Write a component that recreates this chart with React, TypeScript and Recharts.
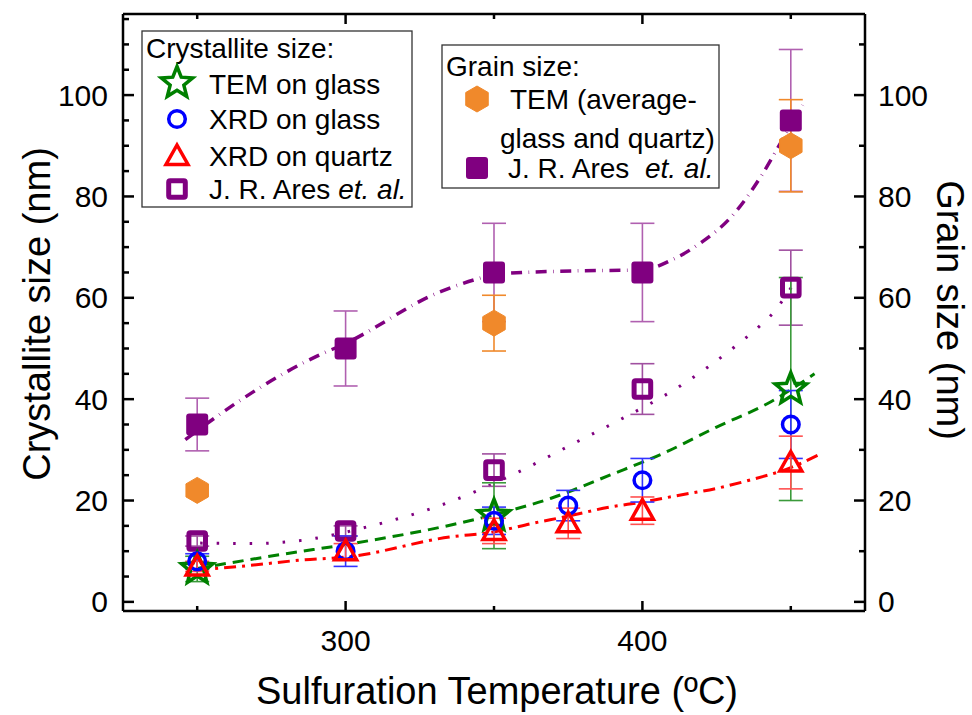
import React from "react";
import { ComposedChart, XAxis, YAxis, Scatter, Line, ErrorBar } from "recharts";

// ---------- data ----------
const temGlassTemps = [250, 350, 450];
const temGlassSize = [6.5, 17, 42];
const temGlassErr = [2.5, 6.5, 22];

const xrdGlassTemps = [250, 300, 350, 375, 400, 450];
const xrdGlassSize = [8, 10, 16, 19, 24, 35];
const xrdGlassErr = [1.5, 3, 2.7, 3, 4.3, 6.7];

const xrdQuartzTemps = [250, 300, 350, 375, 400, 450];
const xrdQuartzSize = [7, 10, 14, 15.5, 18, 27.5];
const xrdQuartzErr = [1, 1.5, 2.5, 3, 2.7, 5.2];

const aresCrystTemps = [250, 300, 350, 400, 450];
const aresCrystSize = [12, 14, 26, 42, 62];
const aresCrystErr = [1, 1, 3.2, 5, 7.4];

const temGrainTemps = [250, 350, 450];
const temGrainSize = [22, 55, 90];
const temGrainErr = [0, 5.5, 9.1];

const aresGrainTemps = [250, 300, 350, 400, 450];
const aresGrainSize = [35, 50, 65, 65, 95];
const aresGrainErr = [5.2, 7.4, 9.7, 9.7, 14];

// trend curves
const greenFitX = [250, 281, 300, 338, 352, 369, 389, 407, 425, 443, 458];
const greenFitY = [6.6, 9.6, 11.3, 15.5, 17.5, 20.4, 25, 29.3, 34.5, 39.4, 45];

const redFitX = [250, 268, 284, 301, 335, 350, 363, 374, 389, 400, 412, 425, 436, 450, 459];
const redFitY = [6.3, 7.2, 8.2, 8.9, 12.8, 13.8, 15.5, 16.8, 18.7, 19.7, 21, 22.4, 24, 26.5, 28.9];

const purpleDotX = [251, 268, 286, 308, 335, 356, 377, 392, 413, 431, 440, 444, 451];
const purpleDotY = [11.6, 11.5, 12.2, 14.9, 19.7, 25, 31.3, 35.8, 42.7, 50.3, 54.7, 57, 62.8];

const purpleDashX = [246, 254, 290, 300, 332, 354, 376, 400, 410, 420, 430, 440, 447, 454];
const purpleDashY = [32, 35.5, 48.4, 51, 61.2, 64.8, 65.3, 65.5, 67.5, 71, 76, 84, 91, 98];

const xTicks = [250, 300, 350, 400, 450];
const xMajor = [300, 400];
const leftTicks = [0, 5, 10, 15, 20, 25, 30, 35, 40, 45, 50, 55, 60, 65, 70, 75, 80, 85, 90, 95, 100, 105, 110, 115];
const rightTicks = [0, 10, 20, 30, 40, 50, 60, 70, 80, 90, 100, 110];

const pts = (xs: number[], ys: number[], es?: number[]) =>
  xs.map((x, i) => ({ x, y: ys[i], err: es ? es[i] : 0 }));

const FONT = "'Liberation Sans', Arial, Helvetica, sans-serif";
const GREEN = "#008000";
const BLUE = "#0000ff";
const RED = "#ff0000";
const PURPLE = "#800080";
const ORANGE = "#f0892b";
const TICK_FS = 30;
const TITLE_FS = 38;
const LEG_FS = 28;

// ---------- marker shapes ----------
const StarShape = ({ cx, cy }: any) => {
  const R = 16.5, r = 7.2;
  const p: string[] = [];
  for (let i = 0; i < 10; i++) {
    const a = -Math.PI / 2 + (i * Math.PI) / 5;
    const rad = i % 2 === 0 ? R : r;
    p.push(`${cx + rad * Math.cos(a)},${cy + rad * Math.sin(a)}`);
  }
  return <polygon points={p.join(" ")} fill="none" stroke={GREEN} strokeWidth={3.5} strokeLinejoin="miter" />;
};
const CircleShape = ({ cx, cy }: any) => (
  <circle cx={cx} cy={cy} r={8.3} fill="none" stroke={BLUE} strokeWidth={3.5} />
);
const TriangleShape = ({ cx, cy }: any) => (
  <polygon
    points={`${cx},${cy - 11} ${cx + 11},${cy + 8.5} ${cx - 11},${cy + 8.5}`}
    fill="none"
    stroke={RED}
    strokeWidth={3.5}
  />
);
const OpenSquareShape = ({ cx, cy }: any) => (
  <rect x={cx - 8.3} y={cy - 8.3} width={16.6} height={16.6} rx={1.5} fill="none" stroke={PURPLE} strokeWidth={5} />
);
const FilledSquareShape = ({ cx, cy }: any) => (
  <rect x={cx - 11} y={cy - 11} width={22} height={22} rx={3} fill={PURPLE} />
);
const HexShape = ({ cx, cy }: any) => {
  const R = 13;
  const p: string[] = [];
  for (let i = 0; i < 6; i++) {
    const a = -Math.PI / 2 + (i * Math.PI) / 3;
    p.push(`${cx + R * Math.cos(a)},${cy + R * Math.sin(a)}`);
  }
  return <polygon points={p.join(" ")} fill={ORANGE} stroke={ORANGE} strokeWidth={1} strokeLinejoin="round" />;
};

// ---------- ticks (inward) ----------
const BottomTick = ({ x, y, payload }: any) => {
  const major = xMajor.includes(payload.value);
  return (
    <g>
      <line x1={x} y1={y} x2={x} y2={y - (major ? 10 : 5)} stroke="#000" strokeWidth={2.5} />
      {major && (
        <text x={x} y={y + 40} textAnchor="middle" fontSize={TICK_FS} fontFamily={FONT} fill="#000">
          {payload.value}
        </text>
      )}
    </g>
  );
};
const TopTick = ({ x, y, payload }: any) => {
  const major = xMajor.includes(payload.value);
  return <line x1={x} y1={y} x2={x} y2={y + (major ? 10 : 5)} stroke="#000" strokeWidth={2.5} />;
};
const LeftTick = ({ x, y, payload }: any) => {
  const major = payload.value % 20 === 0;
  return (
    <g>
      <line x1={x} y1={y} x2={x + (major ? 11 : 6)} y2={y} stroke="#000" strokeWidth={2.5} />
      {major && (
        <text x={x - 15} y={y + 10.5} textAnchor="end" fontSize={TICK_FS} fontFamily={FONT} fill="#000">
          {payload.value}
        </text>
      )}
    </g>
  );
};
const RightTick = ({ x, y, payload }: any) => {
  const major = payload.value % 20 === 0;
  return (
    <g>
      <line x1={x} y1={y} x2={x - (major ? 11 : 6)} y2={y} stroke="#000" strokeWidth={2.5} />
      {major && (
        <text x={x + 13} y={y + 10.5} textAnchor="start" fontSize={TICK_FS} fontFamily={FONT} fill="#000">
          {payload.value}
        </text>
      )}
    </g>
  );
};

const axisLine = { stroke: "#000", strokeWidth: 2.5 };
const X_DOMAIN: [number, number] = [225, 475];
const Y_DOMAIN: [number, number] = [-1.8, 116];

export default function App() {
  return (
    <div style={{ position: "absolute", left: 0, top: 0, width: 972, height: 715, background: "#fff", fontFamily: FONT }}>
      <ComposedChart width={972} height={715} margin={{ top: 4, right: 0, bottom: 0, left: 0 }}>
        <XAxis
          xAxisId="bottom"
          dataKey="x"
          type="number"
          domain={X_DOMAIN}
          allowDataOverflow
          ticks={xTicks}
          interval={0}
          height={104}
          tickSize={0}
          tickMargin={0}
          tickLine={false}
          axisLine={axisLine}
          tick={BottomTick}
        />
        <XAxis
          xAxisId="top"
          orientation="top"
          dataKey="x"
          type="number"
          domain={X_DOMAIN}
          allowDataOverflow
          ticks={xTicks}
          interval={0}
          height={10}
          tickSize={0}
          tickMargin={0}
          tickLine={false}
          axisLine={axisLine}
          tick={TopTick}
        />
        <YAxis
          yAxisId="left"
          dataKey="y"
          type="number"
          domain={Y_DOMAIN}
          allowDataOverflow
          ticks={leftTicks}
          interval={0}
          width={123}
          tickSize={0}
          tickMargin={0}
          tickLine={false}
          axisLine={axisLine}
          tick={LeftTick}
        />
        <YAxis
          yAxisId="right"
          orientation="right"
          dataKey="y"
          type="number"
          domain={Y_DOMAIN}
          allowDataOverflow
          ticks={rightTicks}
          interval={0}
          width={107}
          tickSize={0}
          tickMargin={0}
          tickLine={false}
          axisLine={axisLine}
          tick={RightTick}
        />

        {/* trend curves */}
        <Line
          xAxisId="bottom"
          yAxisId="right"
          data={pts(purpleDashX, purpleDashY)}
          dataKey="y"
          type="monotone"
          stroke={PURPLE}
          strokeWidth={3.5}
          strokeDasharray="11 6.5 0.6 6.5"
          dot={false}
          activeDot={false}
          isAnimationActive={false}
        />
        <Line
          xAxisId="bottom"
          yAxisId="left"
          data={pts(purpleDotX, purpleDotY)}
          dataKey="y"
          type="monotone"
          stroke={PURPLE}
          strokeWidth={3}
          strokeDasharray="2.5 14"
          dot={false}
          activeDot={false}
          isAnimationActive={false}
        />
        <Line
          xAxisId="bottom"
          yAxisId="left"
          data={pts(greenFitX, greenFitY)}
          dataKey="y"
          type="monotone"
          stroke={GREEN}
          strokeWidth={3}
          strokeDasharray="11 7"
          dot={false}
          activeDot={false}
          isAnimationActive={false}
        />
        <Line
          xAxisId="bottom"
          yAxisId="left"
          data={pts(redFitX, redFitY)}
          dataKey="y"
          type="monotone"
          stroke={RED}
          strokeWidth={3}
          strokeDasharray="12 6 3 6"
          dot={false}
          activeDot={false}
          isAnimationActive={false}
        />

        {/* grain size (right axis) */}
        <Scatter
          xAxisId="bottom"
          yAxisId="right"
          data={pts(aresGrainTemps, aresGrainSize, aresGrainErr)}
          dataKey="y"
          shape={FilledSquareShape}
          isAnimationActive={false}
        >
          <ErrorBar dataKey="err" direction="y" width={12} stroke="#b060b0" strokeWidth={1.6} />
        </Scatter>
        <Scatter
          xAxisId="bottom"
          yAxisId="right"
          data={pts(temGrainTemps, temGrainSize, temGrainErr)}
          dataKey="y"
          shape={HexShape}
          isAnimationActive={false}
        >
          <ErrorBar dataKey="err" direction="y" width={12} stroke={ORANGE} strokeWidth={1.6} />
        </Scatter>

        {/* crystallite size (left axis) */}
        <Scatter
          xAxisId="bottom"
          yAxisId="left"
          data={pts(aresCrystTemps, aresCrystSize, aresCrystErr)}
          dataKey="y"
          shape={OpenSquareShape}
          isAnimationActive={false}
        >
          <ErrorBar dataKey="err" direction="y" width={12} stroke="#a050a0" strokeWidth={1.6} />
        </Scatter>
        <Scatter
          xAxisId="bottom"
          yAxisId="left"
          data={pts(temGlassTemps, temGlassSize, temGlassErr)}
          dataKey="y"
          shape={StarShape}
          isAnimationActive={false}
        >
          <ErrorBar dataKey="err" direction="y" width={12} stroke="#3a9a3a" strokeWidth={1.6} />
        </Scatter>
        <Scatter
          xAxisId="bottom"
          yAxisId="left"
          data={pts(xrdGlassTemps, xrdGlassSize, xrdGlassErr)}
          dataKey="y"
          shape={CircleShape}
          isAnimationActive={false}
        >
          <ErrorBar dataKey="err" direction="y" width={12} stroke="#3333ff" strokeWidth={1.6} />
        </Scatter>
        <Scatter
          xAxisId="bottom"
          yAxisId="left"
          data={pts(xrdQuartzTemps, xrdQuartzSize, xrdQuartzErr)}
          dataKey="y"
          shape={TriangleShape}
          isAnimationActive={false}
        >
          <ErrorBar dataKey="err" direction="y" width={12} stroke="#ff5050" strokeWidth={1.6} />
        </Scatter>
      </ComposedChart>

      <svg
        width={972}
        height={715}
        style={{ position: "absolute", left: 0, top: 0, pointerEvents: "none" }}
        fontFamily={FONT}
      >
        {/* axis titles */}
        <text x={50} y={314} transform="rotate(-90 50 314)" textAnchor="middle" fontSize={TITLE_FS} fill="#000">
          Crystallite size (nm)
        </text>
        <text x={937} y={310} transform="rotate(90 937 310)" textAnchor="middle" fontSize={TITLE_FS} fill="#000">
          Grain size (nm)
        </text>
        <text x={497} y={704} textAnchor="middle" fontSize={TITLE_FS} fill="#000">
          Sulfuration Temperature (ºC)
        </text>

        {/* legend 1 */}
        <rect x={142} y={31} width={270} height={176} fill="#fff" stroke="#333" strokeWidth={1.3} />
        <text x={146} y={58} fontSize={LEG_FS} fill="#000">Crystallite size:</text>
        <StarShape cx={177} cy={83} />
        <text x={209} y={94} fontSize={LEG_FS} fill="#000">TEM on glass</text>
        <CircleShape cx={177} cy={119} />
        <text x={209} y={129} fontSize={LEG_FS} fill="#000">XRD on glass</text>
        <TriangleShape cx={177} cy={156} />
        <text x={209} y={166} fontSize={LEG_FS} fill="#000">XRD on quartz</text>
        <OpenSquareShape cx={177} cy={189} />
        <text x={209} y={199} fontSize={LEG_FS} fill="#000">
          J. R. Ares <tspan fontStyle="italic">et. al.</tspan>
        </text>

        {/* legend 2 */}
        <rect x={442} y={45} width={277} height={143} fill="#fff" stroke="#333" strokeWidth={1.3} />
        <text x={446} y={76} fontSize={LEG_FS} fill="#000">Grain size:</text>
        <HexShape cx={477} cy={99} />
        <text x={510} y={109} fontSize={LEG_FS} fill="#000">TEM (average-</text>
        <text x={500} y={148} fontSize={LEG_FS} fill="#000">glass and quartz)</text>
        <FilledSquareShape cx={477} cy={168} />
        <text x={508} y={178} fontSize={LEG_FS} fill="#000" xmlSpace="preserve">
          J. R. Ares  <tspan fontStyle="italic">et. al.</tspan>
        </text>
      </svg>
    </div>
  );
}
